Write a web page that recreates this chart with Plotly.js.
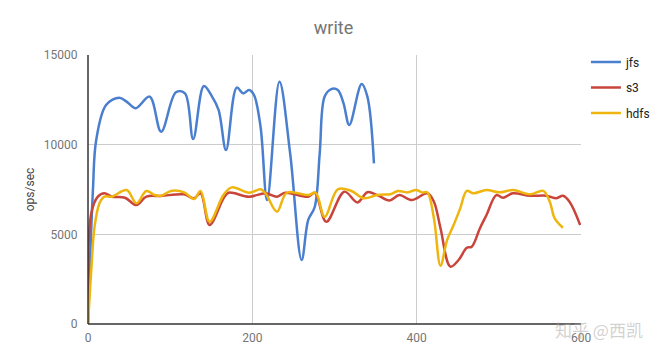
<!DOCTYPE html>
<html>
<head>
<meta charset="utf-8">
<script src="https://cdn.plot.ly/plotly-3.0.1.min.js"></script>
<style>html,body{margin:0;padding:0;background:#fff;}#chart{width:667px;height:360px;}</style>
</head>
<body>
<div id="chart"></div>
<script>
// jfs (blue)
const jfsX = [0, 6, 10, 22, 38, 47, 58, 75, 89, 107, 118, 128, 141, 151, 159, 168, 181, 189, 196, 202, 210, 218, 233, 246, 260, 268, 276, 282, 288, 296, 304, 311, 318, 333, 340, 348];
const jfsY = [0, 7470, 10260, 12210, 12620, 12400, 12030, 12680, 10720, 12920, 12860, 10310, 13270, 12680, 11930, 9700, 13180, 12860, 13050, 12770, 11000, 6910, 13510, 9520, 3570, 5800, 6540, 9520, 12680, 13100, 13050, 12300, 11100, 13380, 12680, 8960];
// s3 (red)
const s3X = [0, 4, 12, 20, 29, 45, 59, 71, 89, 117, 129, 137, 148, 165, 171, 196, 216, 230, 240, 268, 276, 290, 312, 328, 340, 352, 367, 379, 394, 413, 421, 429, 441, 451, 461, 467, 477, 485, 497, 505, 517, 538, 558, 570, 578, 586, 599];
const s3Y = [100, 6170, 7100, 7290, 7100, 7040, 6630, 7100, 7140, 7230, 7010, 7290, 5520, 7010, 7320, 7100, 7290, 7100, 7320, 7100, 7320, 5700, 7380, 6780, 7350, 7190, 6890, 7190, 6910, 7290, 6820, 5340, 3200, 3570, 4250, 4310, 5340, 6080, 7190, 7040, 7290, 7150, 7150, 7010, 7150, 6820, 5520];
// hdfs (yellow)
const hdfsX = [0, 4, 8, 14, 20, 29, 47, 59, 71, 81, 89, 101, 117, 129, 137, 148, 165, 175, 196, 210, 216, 230, 242, 268, 277, 288, 304, 320, 336, 352, 369, 377, 389, 399, 407, 413, 421, 429, 437, 445, 453, 461, 469, 485, 501, 517, 538, 554, 562, 568, 578];
const hdfsY = [0, 3010, 5430, 6730, 7100, 7100, 7470, 6730, 7420, 7190, 7150, 7420, 7340, 6970, 7420, 5700, 7200, 7620, 7320, 7510, 7290, 6260, 7320, 7190, 7320, 5980, 7510, 7430, 7010, 7190, 7250, 7420, 7340, 7470, 7340, 7340, 5890, 3250, 4680, 5520, 6450, 7420, 7290, 7470, 7340, 7470, 7230, 7420, 6820, 5890, 5370];

const seriesNames = ['jfs', 's3', 'hdfs'];
const seriesColors = ['#4a7fcf', '#c9453b', '#efb50f'];
const xTicks = [0, 200, 400, 600];
const yTicks = [0, 5000, 10000, 15000];

const xs = [jfsX, s3X, hdfsX];
const ys = [jfsY, s3Y, hdfsY];

const traces = seriesNames.map((n, i) => ({
  x: xs[i], y: ys[i], name: n, type: 'scatter', mode: 'lines',
  legendgroup: n,
  line: {color: seriesColors[i], width: 2.5, shape: 'spline', smoothing: 1}
}));

const layout = {
  width: 667, height: 360,
  margin: {l: 88, r: 82, t: 55, b: 36},
  paper_bgcolor: '#fff', plot_bgcolor: '#fff',
  font: {family: 'Roboto, Arial, sans-serif', size: 12, color: '#757575'},
  title: {text: 'write', x: 0.5, xanchor: 'center', y: 0.922, yanchor: 'middle',
          font: {size: 18, color: '#757575', family: 'Roboto, Arial, sans-serif'}},
  xaxis: {range: [0, 600], tickvals: xTicks, ticktext: xTicks.map(String),
          showgrid: true, gridcolor: '#cccccc', gridwidth: 1,
          zeroline: false, showline: false, ticks: 'outside', ticklen: 3, tickcolor: 'rgba(0,0,0,0)',
          tickfont: {size: 12, color: '#757575'}},
  yaxis: {range: [0, 15000], tickvals: yTicks, ticktext: yTicks.map(String),
          showgrid: true, gridcolor: '#cccccc', gridwidth: 1,
          zeroline: false, showline: false, ticks: 'outside', ticklen: 7, tickcolor: 'rgba(0,0,0,0)',
          tickfont: {size: 12, color: '#757575'},
          title: {text: 'ops/sec', standoff: 6, font: {size: 12, color: '#444444'}}},
  showlegend: true,
  legend: {x: 1.01, xanchor: 'left', y: 1.028, yanchor: 'top',
           font: {size: 12, color: '#222222'}, tracegroupgap: 6.5,
           traceorder: 'grouped', itemwidth: 30, bgcolor: 'rgba(0,0,0,0)'},
  shapes: [
    {type: 'line', xref: 'paper', yref: 'paper', x0: 0, x1: 0, y0: 0, y1: 1, line: {color: '#333', width: 1.5}},
    {type: 'line', xref: 'paper', yref: 'paper', x0: 0, x1: 1, y0: 0, y1: 0, line: {color: '#333', width: 1.5}}
  ],
  annotations: [
    {text: '知乎 @西凯', xref: 'paper', yref: 'paper', x: 1.13, y: -0.02, xanchor: 'right', yanchor: 'middle',
     showarrow: false, font: {size: 17, color: 'rgba(170,170,170,0.55)', family: 'Noto Sans CJK SC, sans-serif'}}
  ]
};

Plotly.newPlot('chart', traces, layout, {displayModeBar: false, staticPlot: true});
</script>
</body>
</html>
